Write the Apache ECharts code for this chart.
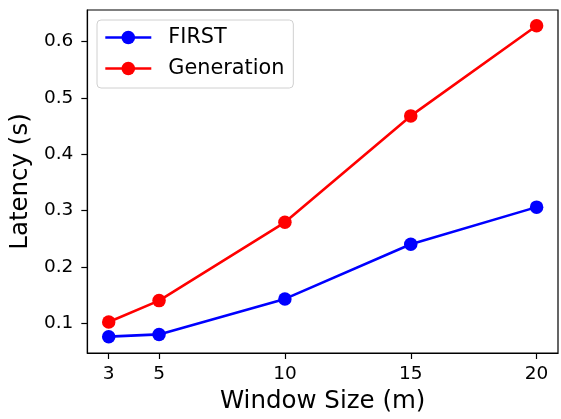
<!DOCTYPE html>
<html>
<head>
<meta charset="utf-8">
<script src="https://cdn.jsdelivr.net/npm/echarts@6/dist/echarts.min.js"></script>
<style>
  html, body { margin: 0; padding: 0; background: #fff; }
  #main { width: 561px; height: 419px; }
</style>
</head>
<body>
<div id="main"></div>
<script>
var windowSizes = [3, 5, 10, 15, 20];
var firstLatency = [0.076, 0.080, 0.143, 0.240, 0.306];
var genLatency = [0.102, 0.140, 0.279, 0.468, 0.628];
var xTicks = [3, 5, 10, 15, 20];
var yTicks = [0.1, 0.2, 0.3, 0.4, 0.5, 0.6];

function pairs(xs, ys) {
	return xs.map(function(x, i) { return [x, ys[i]]; });
}

var chart = echarts.init(document.getElementById('main'));
var font = 'DejaVu Sans';

var option = {
	animation: false,
	textStyle: { fontFamily: font },
	grid: {
		left: 87, right: 3, top: 10, bottom: 66,
		show: true, borderColor: '#000', borderWidth: 1.2
	},
	legend: {
		orient: 'vertical',
		left: 97, top: 20,
		padding: [6, 9, 8, 7],
		itemGap: 8,
		itemWidth: 46, itemHeight: 17,
		lineStyle: { width: 2.6 },
		backgroundColor: 'rgba(255,255,255,0.8)',
		borderColor: '#d0d0d0', borderWidth: 1, borderRadius: 4,
		textStyle: { fontSize: 20.8, lineHeight: 23, color: '#000', fontFamily: font, padding: [0, 0, 0, 12] },
		data: ['FIRST', 'Generation']
	},
	xAxis: {
		type: 'value',
		min: 2.15, max: 20.85,
		name: 'Window Size (m)',
		nameLocation: 'middle',
		nameGap: 36,
		nameTextStyle: { fontSize: 24.5, color: '#000', fontFamily: font },
		axisLine: { show: true, lineStyle: { color: '#000', width: 1.2 } },
		axisTick: { show: true, length: 6, lineStyle: { color: '#000', width: 1.2 }, customValues: xTicks },
		axisLabel: { fontSize: 18.5, color: '#000', margin: 12, customValues: xTicks },
		splitLine: { show: false }
	},
	yAxis: {
		type: 'value',
		min: 0.047, max: 0.656,
		name: 'Latency (s)',
		nameLocation: 'middle',
		nameGap: 54,
		nameTextStyle: { fontSize: 24.5, color: '#000', fontFamily: font },
		axisLine: { show: true, lineStyle: { color: '#000', width: 1.2 } },
		axisTick: { show: true, length: 6, lineStyle: { color: '#000', width: 1.2 }, customValues: yTicks },
		axisLabel: { fontSize: 18.5, color: '#000', margin: 14, customValues: yTicks,
			formatter: function(v) { return v.toFixed(1); } },
		splitLine: { show: false }
	},
	series: [{
		name: 'FIRST',
		type: 'line',
		data: pairs(windowSizes, firstLatency),
		symbol: 'circle', symbolSize: 13.5,
		itemStyle: { color: '#0000ff' },
		lineStyle: { color: '#0000ff', width: 2.6 }
	}, {
		name: 'Generation',
		type: 'line',
		data: pairs(windowSizes, genLatency),
		symbol: 'circle', symbolSize: 13.5,
		itemStyle: { color: '#ff0000' },
		lineStyle: { color: '#ff0000', width: 2.6 }
	}]
};

chart.setOption(option);
</script>
</body>
</html>
